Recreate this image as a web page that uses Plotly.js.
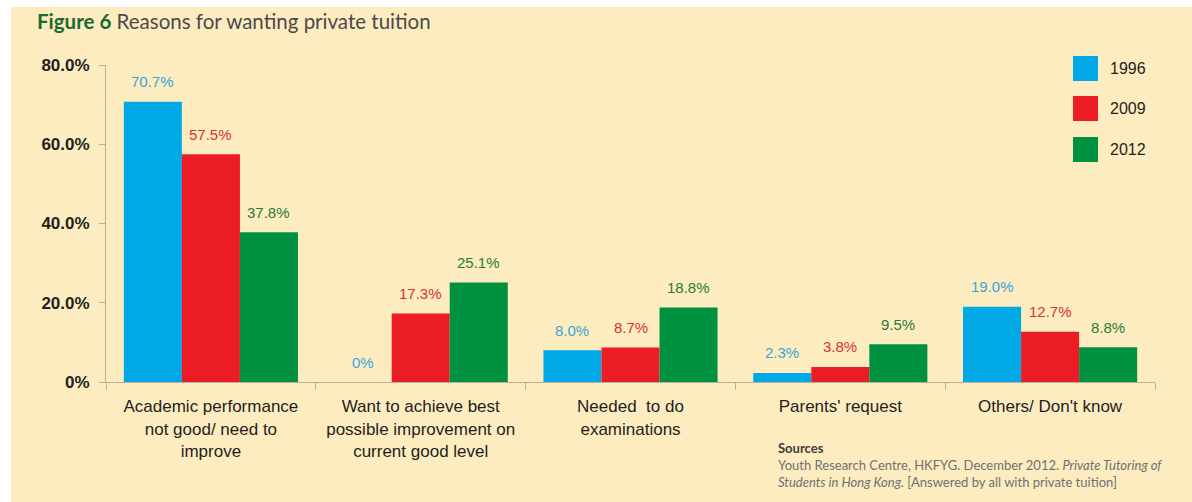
<!DOCTYPE html>
<html>
<head>
<meta charset="utf-8">
<script src="https://cdn.plot.ly/plotly-3.0.1.min.js"></script>
<style>
  html, body { margin: 0; padding: 0; background: #ffffff; }
  #bg { position: absolute; left: 11px; top: 7px; right: 0; bottom: 0; background: #fdecc0; }
  #chart { position: absolute; left: 0; top: 0; width: 1192px; height: 502px; }
</style>
</head>
<body>
<div id="bg"></div>
<div id="chart"></div>
<script>
// ---- data ----
const categories = [
  "Academic performance<br>not good/ need to<br>improve",
  "Want to achieve best<br>possible improvement on<br>current good level",
  "Needed  to do<br>examinations",
  "Parents' request",
  "Others/ Don't know"
];
const seriesNames = ["1996", "2009", "2012"];
const values1996 = [70.7, 0, 8.0, 2.3, 19.0];
const values2009 = [57.5, 17.3, 8.7, 3.8, 12.7];
const values2012 = [37.8, 25.1, 18.8, 9.5, 8.8];
const yTickVals = [0, 20, 40, 60, 80];
const yTickText = ["0%", "20.0%", "40.0%", "60.0%", "80.0%"];

// ---- style ----
const barColors = ["#00a9e6", "#ec1c24", "#009140"];
const labelColors = ["#3aa5d8", "#d93236", "#2a7a3a"];
const axisColor = "#b9b09c";
const textDark = "#231f20";

const W = 1192, H = 502;
const M = { l: 106, r: 37, t: 65, b: 120 };
const plotW = W - M.l - M.r, plotH = H - M.t - M.b;
const bargap = 0.17;
const catW = plotW / categories.length;
const barPx = catW * (1 - bargap) / 3;
const px2x = px => (px - M.l) / plotW;
const py2y = py => (H - M.b - py) / plotH;

const allValues = [values1996, values2009, values2012];

const traces = allValues.map((vals, i) => ({
  type: "bar",
  name: seriesNames[i],
  x: categories,
  y: vals,
  marker: { color: barColors[i], line: { width: 0 } },
  hoverinfo: "skip",
  showlegend: false
}));

const fmt = v => (v === 0 ? "0%" : v.toFixed(1) + "%");

const annotations = [];
allValues.forEach((vals, i) => {
  vals.forEach((v, k) => {
    annotations.push({
      x: categories[k], y: v, xref: "x", yref: "y",
      text: fmt(v), showarrow: false,
      xshift: (i - 1) * barPx, yshift: 20,
      yanchor: "middle", xanchor: "center",
      font: { family: "Liberation Sans, Arial, sans-serif", size: 15, color: labelColors[i] }
    });
  });
});

// legend (custom squares)
const legendTop = [56, 96, 137];
const shapes = [];
seriesNames.forEach((n, i) => {
  shapes.push({
    type: "rect", xref: "paper", yref: "paper",
    x0: px2x(1073), x1: px2x(1098),
    y0: py2y(legendTop[i]), y1: py2y(legendTop[i] + 25),
    fillcolor: barColors[i], line: { width: 0 }
  });
  annotations.push({
    xref: "paper", yref: "paper",
    x: px2x(1108), y: py2y(legendTop[i] + 12.5),
    xanchor: "left", yanchor: "middle", showarrow: false,
    text: n,
    font: { family: "Liberation Sans, Arial, sans-serif", size: 16, color: textDark }
  });
});

// sources
annotations.push({
  xref: "paper", yref: "paper",
  x: px2x(776), y: py2y(438),
  xanchor: "left", yanchor: "top", align: "left", showarrow: false,
  text: "<b><span style='color:#3c3c3c'>Sources</span></b><br>Youth Research Centre, HKFYG. December 2012. <i>Private Tutoring of</i><br><i>Students in Hong Kong.</i> [Answered by all with private tuition]",
  font: { family: "Lato, Open Sans, sans-serif", size: 13, color: "#707070" }
});

const layout = {
  width: W, height: H,
  margin: M,
  paper_bgcolor: "rgba(0,0,0,0)",
  plot_bgcolor: "rgba(0,0,0,0)",
  barmode: "group",
  bargap: bargap,
  bargroupgap: 0,
  title: {
    text: "<b><span style='color:#1b6a34'>Figure 6</span></b> Reasons for wanting private tuition",
    x: 37 / W, xref: "container", xanchor: "left",
    y: 1 - 22 / H, yref: "container", yanchor: "middle",
    font: { family: "Lato, Open Sans, sans-serif", size: 20.5, color: "#4a4a4a" }
  },
  xaxis: {
    type: "category",
    showline: true, linecolor: axisColor, linewidth: 1,
    ticks: "outside", tickson: "boundaries", ticklen: 7, tickcolor: axisColor, tickwidth: 1,
    showgrid: false, zeroline: false,
    ticklabelstandoff: 9,
    tickfont: { family: "Liberation Sans, Arial, sans-serif", size: 17, color: textDark }
  },
  yaxis: {
    range: [0, 80],
    showline: true, linecolor: axisColor, linewidth: 1,
    ticks: "outside", ticklen: 6, tickcolor: axisColor,
    tickvals: yTickVals, ticktext: yTickText,
    showgrid: false, zeroline: false,
    ticklabelstandoff: 6,
    tickfont: { family: "Liberation Sans, Arial, sans-serif", size: 17, color: textDark, weight: "bold" }
  },
  annotations: annotations,
  shapes: shapes,
  showlegend: false
};

Plotly.newPlot("chart", traces, layout, { displayModeBar: false, staticPlot: true });
</script>
</body>
</html>
